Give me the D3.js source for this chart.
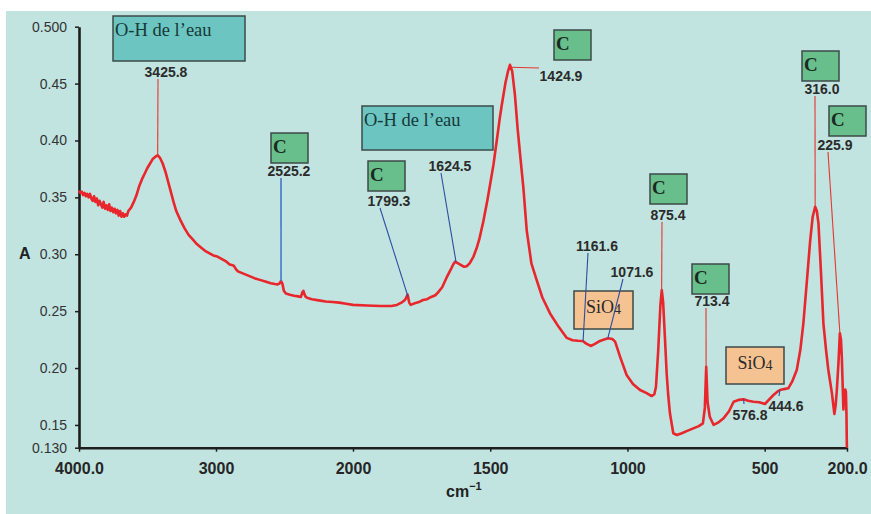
<!DOCTYPE html>
<html>
<head>
<meta charset="utf-8">
<script src="https://cdn.jsdelivr.net/npm/d3@7"></script>
<style>
body { margin: 0; background: #fff; }
svg { display: block; }
</style>
</head>
<body>
<svg></svg>
<script>
// spectre IR : nombre d'onde (cm-1) et absorbance
let spectrumWn = [
    4000, 3990, 3980, 3970, 3960, 3950, 3940, 3930, 3920, 3910, 3900, 3890, 3880, 3870, 3860, 3850,
    3840, 3830, 3820, 3810, 3800, 3790, 3780, 3770, 3760, 3750, 3740, 3730, 3720, 3710, 3700, 3690,
    3680, 3670, 3660, 3650, 3640, 3620, 3600, 3580, 3560, 3540, 3520, 3500,
    3480, 3460, 3440, 3426, 3410, 3390, 3370, 3350, 3330, 3310, 3290, 3260, 3230, 3200, 3170, 3140,
    3110, 3080, 3050, 3020, 2990, 2960, 2930, 2900, 2885, 2870, 2855, 2840, 2800, 2760, 2720, 2680,
    2640, 2600, 2570, 2550, 2535, 2525, 2515, 2505, 2490, 2460, 2430, 2400, 2380, 2370, 2362, 2355,
    2345, 2330, 2300, 2250, 2200, 2150, 2100, 2050, 2000, 1950, 1900, 1860, 1840, 1820, 1810, 1801,
    1795, 1790, 1775, 1760, 1745, 1730, 1715, 1700, 1690, 1675, 1660, 1645, 1635, 1628, 1620, 1610,
    1595, 1586, 1575, 1561, 1550, 1540, 1525, 1510, 1500, 1488, 1475, 1465, 1458, 1445, 1435, 1428,
    1420, 1410, 1400, 1390, 1379, 1367, 1350, 1331, 1310, 1282, 1250, 1221, 1200, 1180, 1163, 1150,
    1134, 1120, 1100, 1085, 1070, 1055, 1045, 1035, 1027, 1003, 980, 954, 930, 912, 902, 896,
    888, 880, 875, 870, 863, 857, 851, 845, 833, 820, 802, 780, 760, 740, 725, 718,
    713, 708, 700, 686, 670, 650, 630, 613, 595, 577, 560, 541, 520, 499, 485, 468,
    455, 444, 430, 414, 400, 383, 370, 359, 345, 334, 325, 316, 310, 304, 295, 286,
    276, 268, 255, 246, 241, 237, 231, 226, 222, 219, 213, 210, 206, 204, 202, 200.5, 200
]
let spectrumA = [
    0.356, 0.354, 0.355, 0.352, 0.354, 0.351, 0.353, 0.350, 0.353, 0.349, 0.347, 0.351, 0.346, 0.349, 0.343, 0.347,
    0.344, 0.341, 0.346, 0.340, 0.343, 0.339, 0.344, 0.338, 0.341, 0.337, 0.340, 0.336, 0.339, 0.334, 0.338, 0.333,
    0.336, 0.333, 0.335, 0.334, 0.338, 0.341, 0.346, 0.352, 0.360, 0.366, 0.371, 0.376,
    0.380, 0.384, 0.386, 0.387, 0.385, 0.380, 0.373, 0.364, 0.355, 0.346, 0.338, 0.330, 0.323, 0.317, 0.313, 0.309,
    0.306, 0.303, 0.301, 0.299, 0.298, 0.296, 0.294, 0.291, 0.2905, 0.290, 0.287, 0.285, 0.283, 0.281, 0.279, 0.2775,
    0.276, 0.2745, 0.2738, 0.2735, 0.2745, 0.2765, 0.274, 0.268, 0.2655, 0.2645, 0.2636, 0.263, 0.2625, 0.2665, 0.2678, 0.265,
    0.2625, 0.2615, 0.2605, 0.2595, 0.2585, 0.258, 0.2575, 0.2565, 0.2555, 0.255, 0.2545, 0.2545, 0.2555, 0.258, 0.260, 0.2645,
    0.2575, 0.2555, 0.257, 0.258, 0.2598, 0.2605, 0.2625, 0.264, 0.2665, 0.271, 0.279, 0.286, 0.291, 0.2935, 0.2925, 0.291,
    0.289, 0.2895, 0.292, 0.298, 0.305, 0.313, 0.329, 0.348, 0.362, 0.379, 0.402, 0.420, 0.431, 0.450, 0.461, 0.4665,
    0.461, 0.440, 0.410, 0.385, 0.358, 0.321, 0.292, 0.2775, 0.262, 0.248, 0.236, 0.2265, 0.2245, 0.224, 0.2238, 0.2215,
    0.2194, 0.221, 0.2238, 0.225, 0.2262, 0.2255, 0.2232, 0.216, 0.210, 0.1939, 0.186, 0.1807, 0.178, 0.1754, 0.177, 0.1836,
    0.215, 0.255, 0.2686, 0.258, 0.2246, 0.195, 0.1748, 0.160, 0.1427, 0.1412, 0.1427, 0.145, 0.147, 0.149, 0.1514, 0.165,
    0.2012, 0.170, 0.1572, 0.150, 0.152, 0.1558, 0.162, 0.1704, 0.172, 0.1725, 0.1712, 0.1704, 0.170, 0.1684, 0.172, 0.1763,
    0.179, 0.1807, 0.1815, 0.1822, 0.188, 0.1983, 0.216, 0.2393, 0.280, 0.3125, 0.333, 0.3418, 0.338, 0.3272, 0.285, 0.2393,
    0.215, 0.1983, 0.178, 0.1596, 0.168, 0.1807, 0.205, 0.2305, 0.225, 0.210, 0.1637, 0.1807, 0.181, 0.1792, 0.160, 0.131, 0.130
]

let xTicks = [4000, 3000, 2000, 1500, 1000, 500, 200]
let xTickLabels = ['4000.0', '3000', '2000', '1500', '1000', '500', '200.0']
let yTicks = [0.13, 0.15, 0.20, 0.25, 0.30, 0.35, 0.40, 0.45, 0.50]
let yTickLabels = ['0.130', '0.15', '0.20', '0.25', '0.30', '0.35', '0.40', '0.45', '0.500']

// bandes pointées
let peakWn = [3425.8, 2525.2, 1799.3, 1624.5, 1424.9, 1161.6, 1071.6, 875.4, 713.4, 576.8, 444.6, 316.0, 225.9]
let bandNames = ['O-H de l\u2019eau', 'C', 'C', 'O-H de l\u2019eau', 'C', 'SiO4', 'C', 'C', 'SiO4', 'C', 'C']

// mise en page des étiquettes (pixels)
let peakLayout = [
    {tx: 166, ty: 77, lx: 158, ly: 79, col: 'red'},
    {tx: 289, ty: 176, lx: 281, ly: 178, col: 'lightblue'},
    {tx: 389, ty: 206, lx: 380, ly: 208, col: 'blue'},
    {tx: 450, ty: 171, lx: 441, ly: 173, col: 'blue'},
    {tx: 561, ty: 81, lx: 539, ly: 68, col: 'red'},
    {tx: 597, ty: 251, lx: 588, ly: 253, col: 'blue'},
    {tx: 632, ty: 277, lx: 623, ly: 279, col: 'blue'},
    {tx: 668, ty: 220, lx: 662, ly: 222, col: 'red'},
    {tx: 712, ty: 306, lx: 706, ly: 308, col: 'red'},
    {tx: 750, ty: 420, lx: 744, ly: 404, col: 'blue'},
    {tx: 786, ty: 411, lx: 779, ly: 396, col: 'blue'},
    {tx: 822, ty: 94, lx: 815, ly: 96, col: 'red'},
    {tx: 835, ty: 150, lx: 828, ly: 152, col: 'red'}
]
let boxLayout = [
    {x: 113, y: 16, w: 132, h: 45},
    {x: 271, y: 133},
    {x: 368, y: 161},
    {x: 362, y: 106, w: 131, h: 44},
    {x: 554, y: 30},
    {x: 574, y: 291, w: 59, h: 38},
    {x: 650, y: 174},
    {x: 692, y: 264},
    {x: 726, y: 347, w: 58, h: 37},
    {x: 802, y: 51},
    {x: 829, y: 106}
]

let lineColors = {red: '#e8352f', blue: '#2c4ea0', lightblue: '#4a78c4'}
let boxFills = {'C': '#69bf8c', 'SiO4': '#f5c292', 'O-H de l\u2019eau': '#6cc5c1'}

let width = 871
let height = 514

let svg = d3.select('svg')
svg.attr('width', width).attr('height', height)

// échelle coupée à 2000 cm-1 (dilatée x2 en dessous)
let xScale = d3.scaleLinear()
    .domain([4000, 2000, 200])
    .range([79, 353, 847])
let yScale = d3.scaleLinear()
    .domain([0.13, 0.5])
    .range([447.7, 26.7])

let absAt = (w) => {
    for (let i = 0; i < spectrumWn.length - 1; i++) {
        if (w <= spectrumWn[i] && w >= spectrumWn[i + 1]) {
            let t = (spectrumWn[i] - w) / (spectrumWn[i] - spectrumWn[i + 1])
            return spectrumA[i] + t * (spectrumA[i + 1] - spectrumA[i])
        }
    }
    return spectrumA[spectrumA.length - 1]
}

// fond
svg.append('rect')
    .attr('x', 6).attr('y', 11)
    .attr('width', width - 6).attr('height', height - 11)
    .attr('fill', '#c1e4e1')

// boîtes
let boxG = svg.append('g')
boxLayout.forEach((b, i) => {
    let name = bandNames[i]
    let w = b.w || 37
    let h = b.h || 30
    boxG.append('rect')
        .attr('x', b.x).attr('y', b.y)
        .attr('width', w).attr('height', h)
        .attr('fill', boxFills[name])
        .attr('stroke', '#3c4a48')
        .attr('stroke-width', 1.5)
    if (name == 'C') {
        boxG.append('text')
            .attr('x', b.x + 2).attr('y', b.y + 20)
            .attr('font-family', 'Liberation Serif, serif')
            .attr('font-size', 19)
            .attr('font-weight', 'bold')
            .attr('fill', '#1a2a22')
            .text('C')
    } else if (name == 'SiO4') {
        let t = boxG.append('text')
            .attr('x', b.x + w / 2).attr('y', b.y + 22)
            .attr('text-anchor', 'middle')
            .attr('font-family', 'Liberation Serif, serif')
            .attr('font-size', 18)
            .attr('fill', '#2a2a2a')
        t.append('tspan').text('SiO')
        t.append('tspan').attr('font-size', 14).attr('dy', 1).text('4')
    } else {
        boxG.append('text')
            .attr('x', b.x + 2).attr('y', b.y + 20)
            .attr('font-family', 'Liberation Serif, serif')
            .attr('font-size', 18.5)
            .attr('fill', '#173838')
            .text(name)
    }
})

// axes
let xAxis = d3.axisBottom(xScale)
    .tickValues(xTicks)
    .tickFormat((d, i) => xTickLabels[i])
    .tickSize(4)
    .tickSizeOuter(0)
    .tickPadding(11)
let yAxis = d3.axisLeft(yScale)
    .tickValues(yTicks)
    .tickFormat((d, i) => yTickLabels[i])
    .tickSize(4)
    .tickSizeOuter(0)
    .tickPadding(8)

let gx = svg.append('g')
    .attr('id', 'x-axis')
    .attr('transform', 'translate(0, 447.7)')
    .call(xAxis)
gx.selectAll('text')
    .attr('font-family', 'Liberation Sans, Arial, sans-serif')
    .attr('font-size', 16)
    .attr('font-weight', 'bold')
    .attr('fill', '#262626')
gx.select('.domain').attr('stroke', '#1e1e1e').attr('stroke-width', 2.6)
gx.selectAll('.tick line').attr('stroke', '#1e1e1e').attr('stroke-width', 1.5)

let gy = svg.append('g')
    .attr('id', 'y-axis')
    .attr('transform', 'translate(79, 0)')
    .call(yAxis)
gy.selectAll('text')
    .attr('font-family', 'Liberation Sans, Arial, sans-serif')
    .attr('font-size', 14)
    .attr('fill', '#333')
gy.select('.domain').attr('stroke', '#1e1e1e').attr('stroke-width', 2.6)
gy.selectAll('.tick line').attr('stroke', '#1e1e1e').attr('stroke-width', 1.5)

svg.append('text')
    .attr('x', 19).attr('y', 259)
    .attr('font-family', 'Liberation Sans, Arial, sans-serif')
    .attr('font-size', 16)
    .attr('font-weight', 'bold')
    .attr('fill', '#222')
    .text('A')

let unit = svg.append('text')
    .attr('x', 446).attr('y', 497)
    .attr('font-family', 'Liberation Sans, Arial, sans-serif')
    .attr('font-size', 16)
    .attr('font-weight', 'bold')
    .attr('fill', '#222')
unit.append('tspan').text('cm')
unit.append('tspan').attr('font-size', 11).attr('dy', -7).text('\u22121')

// spectre
let line = d3.line()
    .x((d) => xScale(d[0]))
    .y((d) => yScale(d[1]))
svg.append('path')
    .datum(spectrumWn.map((w, i) => [w, spectrumA[i]]))
    .attr('d', line)
    .attr('fill', 'none')
    .attr('stroke', '#e8262b')
    .attr('stroke-width', 2.6)
    .attr('stroke-linejoin', 'round')

// traits et nombres d'onde
peakWn.forEach((w, i) => {
    let p = peakLayout[i]
    svg.append('line')
        .attr('x1', p.lx).attr('y1', p.ly)
        .attr('x2', xScale(w)).attr('y2', yScale(absAt(w)))
        .attr('stroke', lineColors[p.col])
        .attr('stroke-width', p.col == 'lightblue' ? 1.6 : 1.1)
    svg.append('text')
        .attr('x', p.tx).attr('y', p.ty)
        .attr('text-anchor', 'middle')
        .attr('font-family', 'Liberation Sans, Arial, sans-serif')
        .attr('font-size', 14)
        .attr('font-weight', 'bold')
        .attr('fill', '#2b2b2b')
        .text(w.toFixed(1))
})
</script>
</body>
</html>
